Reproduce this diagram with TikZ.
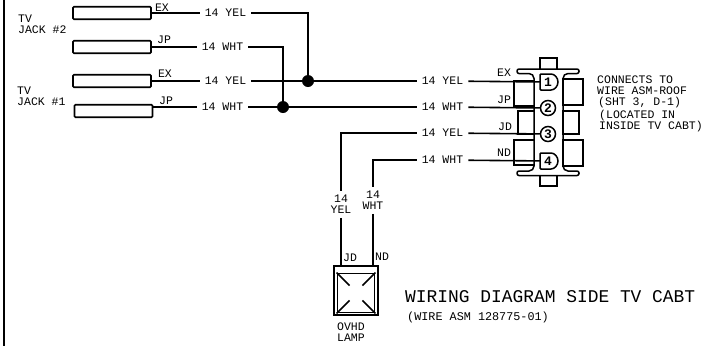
\documentclass[tikz,border=0pt]{standalone}
\usepackage{fontspec}
\setmainfont{Liberation Mono}
\tikzset{
  wire/.style={line width=1.6pt},
  part/.style={line width=1.5pt},
  jackbox/.style={draw,line width=1.6pt,rounded corners=1pt,minimum width=78pt,minimum height=12.5pt,inner sep=0pt},
  small/.style={font=\fontsize{11.5}{11}\selectfont,inner sep=1pt},
  gauge/.style={small,inner sep=5pt},
  pinno/.style={draw,circle,line width=1.5pt,minimum size=15pt,inner sep=0pt,font=\fontsize{13}{13}\selectfont\bfseries},
  junction/.style={circle,fill=black,minimum size=12pt,inner sep=0pt}
}
\begin{document}
\begin{tikzpicture}[x=1pt,y=-1pt]
    \useasboundingbox (0,0) rectangle (705,346);
    \draw[line width=2pt] (4,0) -- (4,346);

    \node[jackbox] (jackEXb) at (112,13) {};
    \node[jackbox] (jackJPb) at (112,47) {};
    \node[jackbox] (jackEXa) at (112,81) {};
    \node[jackbox] (jackJPa) at (113.5,111) {};
    \node[small,align=left,anchor=west] at (17,24) {TV\\JACK \#2};
    \node[small,align=left,anchor=west] at (16,96) {TV\\JACK \#1};

    \node[small] at (162,8) {EX};
    \node[small] at (164,40) {JP};
    \node[small] at (165,74) {EX};
    \node[small] at (166,101) {JP};

    \node[gauge] (yelb) at (225.5,13) {14 YEL};
    \node[gauge] (whtb) at (222.5,47) {14 WHT};
    \node[gauge] (yela) at (225.5,81) {14 YEL};
    \node[gauge] (whta) at (222.5,107) {14 WHT};
    \node[junction] (jointEX) at (308,81) {};
    \node[junction] (jointJP) at (283,107) {};
    \coordinate (cornerEX) at (308,13);
    \coordinate (cornerJP) at (283,47);

    \draw[wire] (jackEXb) -- (yelb);
    \draw[wire] (jackJPb) -- (whtb);
    \draw[wire] (jackEXa) -- (yela);
    \draw[wire] (jackJPa.east |- whta) -- (whta);
    \draw[wire] (yelb) -- (cornerEX) -- (jointEX);
    \draw[wire] (whtb) -- (cornerJP) -- (jointJP);

    \node[gauge] (yelone) at (442.5,81) {14 YEL};
    \node[gauge] (whttwo) at (442.5,107) {14 WHT};
    \node[gauge] (yelthree) at (442.5,133) {14 YEL};
    \node[gauge] (whtfour) at (442.5,160) {14 WHT};
    \draw[wire] (yela) -- (jointEX) -- (yelone);
    \draw[wire] (whta) -- (jointJP) -- (whttwo);

    \node[small] at (504,73) {EX};
    \node[small] at (504,100) {JP};
    \node[small] at (505,127) {JD};
    \node[small] at (504,153) {ND};

    \draw[part] (540,69) -- (540,58) -- (557,58) -- (557,69);
    \draw[part] (540,175.5) -- (540,186) -- (557,186) -- (557,175.5);
    \draw[part,rounded corners=2pt] (517,69) -- (579,69) -- (579,73.5)
      [rounded corners=5pt] -- (563,73.5) -- (563,171)
      [rounded corners=2pt] -- (579,171) -- (579,175.5) -- (517,175.5) -- (517,171)
      [rounded corners=5pt] -- (534,171) -- (534,73.5)
      [rounded corners=2pt] -- (517,73.5) -- cycle;
    \draw[part] (534,81) -- (514,81) -- (514,106) -- (534,106);
    \draw[part] (534,111) -- (518,111) -- (518,134) -- (534,134);
    \draw[part] (534,140) -- (514,140) -- (514,165) -- (534,165);
    \draw[part] (563,79) rectangle (583,105);
    \draw[part] (563,111) rectangle (579,134);
    \draw[part] (563,140) rectangle (583,166);

    \draw[part,rounded corners=1pt] (540,74) -- (550,74) arc[start angle=90,end angle=-90,radius=8pt] -- (540,90) -- cycle;
    \draw[part,rounded corners=1pt] (540,153) -- (550,153) arc[start angle=90,end angle=-90,radius=8pt] -- (540,169) -- cycle;
    \node[pinno,draw=none] (pinone) at (548,82) {1};
    \node[pinno] (pintwo) at (548,108) {2};
    \node[pinno] (pinthree) at (548,134) {3};
    \node[pinno,draw=none] (pinfour) at (548,161) {4};
    \draw[wire] (yelone) -- (pinone);
    \draw[wire] (whttwo) -- (pintwo);
    \draw[wire] (yelthree) -- (pinthree);
    \draw[wire] (whtfour) -- (pinfour);

    \node[small,anchor=west] at (596,80) {CONNECTS TO};
    \node[small,anchor=west] at (596,91) {WIRE ASM-ROOF};
    \node[small,anchor=west] at (597,103) {(SHT 3, D-1)};
    \node[small,anchor=west] at (598,116) {(LOCATED IN};
    \node[small,anchor=west] at (598,127) {INSIDE TV CABT)};

    \node[draw,line width=2pt,minimum width=44pt,minimum height=49pt,inner sep=0pt] (lamp) at (355.5,290) {};
    \node[draw,line width=1.8pt,minimum width=37pt,minimum height=39pt,inner sep=0pt] (lens) at (356,293) {};
    \draw[part] (lens.north west) -- ++(13,13);
    \draw[part] (lens.north east) -- ++(-13,13);
    \draw[part] (lens.south west) -- ++(13,-13);
    \draw[part] (lens.south east) -- ++(-13,-13);

    \node[small,align=center,inner sep=4pt] (yelv) at (341,204.5) {14\\YEL};
    \node[small,align=center,inner sep=4pt] (whtv) at (373,200.5) {14\\WHT};
    \coordinate (cornerJD) at (341,133);
    \coordinate (cornerND) at (373,160);
    \draw[wire] (yelthree) -- (cornerJD) -- (yelv);
    \draw[wire] (whtfour) -- (cornerND) -- (whtv);
    \draw[wire] (yelv) -- (yelv |- lamp.north);
    \draw[wire] (whtv) -- (whtv |- lamp.north);
    \node[small] at (350,258) {JD};
    \node[small] at (382,257) {ND};
    \node[small,align=center] at (351,332.5) {OVHD\\LAMP};

    \node[anchor=west,inner sep=0pt,font=\fontsize{17.9}{17.9}\selectfont] at (405,297) {WIRING DIAGRAM SIDE TV CABT};
    \node[anchor=west,inner sep=0pt,font=\fontsize{11.8}{11.8}\selectfont] at (407,317) {(WIRE ASM 128775-01)};
\end{tikzpicture}
\end{document}
